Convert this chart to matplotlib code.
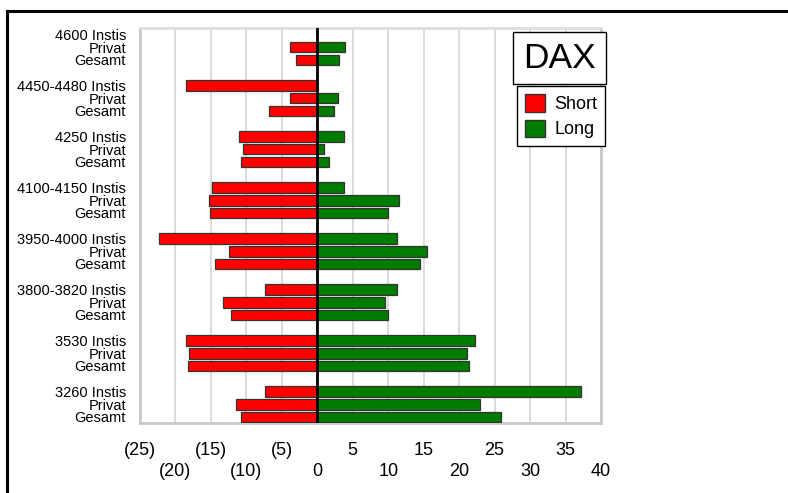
import matplotlib.pyplot as plt
from matplotlib.patches import Patch
from matplotlib.lines import Line2D
import numpy as np

plt.rcParams['font.family'] = ['Liberation Sans', 'DejaVu Sans']

# groups from top to bottom, each with Instis / Privat / Gesamt
groups = ['4600', '4450-4480', '4250', '4100-4150', '3950-4000', '3800-3820', '3530', '3260']
rows = ['Instis', 'Privat', 'Gesamt']

short = [
    [0.0, 3.8, 3.0],
    [18.5, 3.8, 6.8],
    [11.1, 10.5, 10.7],
    [14.8, 15.3, 15.2],
    [22.3, 12.4, 14.4],
    [7.4, 13.3, 12.1],
    [18.5, 18.1, 18.2],
    [7.4, 11.4, 10.7],
]
long = [
    [0.0, 3.9, 3.1],
    [0.0, 2.9, 2.3],
    [3.8, 1.0, 1.6],
    [3.8, 11.5, 9.9],
    [11.2, 15.4, 14.5],
    [11.2, 9.6, 9.9],
    [22.3, 21.1, 21.4],
    [37.2, 23.0, 25.9],
]

xticks_vals = list(range(-25, 45, 5))

fig = plt.figure(figsize=(7.88, 4.93), dpi=100)
ax = fig.add_axes([140 / 788, 69.7 / 493, 461 / 788, 395.3 / 493])

# outer black frame (runs off right and bottom)
fig.add_artist(Line2D([7 / 788, 7 / 788], [0, 1 - 11 / 493], color='black', lw=2.2, transform=fig.transFigure))
fig.add_artist(Line2D([7 / 788, 1], [1 - 11 / 493, 1 - 11 / 493], color='black', lw=2.2, transform=fig.transFigure))

ypos, labels, s_vals, l_vals = [], [], [], []
for g, name in enumerate(groups):
    for r, row in enumerate(rows):
        ypos.append(g * 4 + r)
        labels.append(name + ' ' + row if r == 0 else row)
        s_vals.append(-short[g][r])
        l_vals.append(long[g][r])

ypos = np.array(ypos)
ax.barh(ypos, s_vals, height=0.84, color='#ff0000', edgecolor='#333333', linewidth=0.9, zorder=3)
ax.barh(ypos, l_vals, height=0.84, color='#007c00', edgecolor='#333333', linewidth=0.9, zorder=3)
ax.axvline(0, color='black', lw=2, zorder=4)

ax.set_xlim(-25, 40)
ax.set_ylim(30.5, -0.5)
ax.set_yticks(ypos)
ax.set_yticklabels(labels, fontsize=10.5)
ax.tick_params(axis='y', length=0, pad=10)

ax.set_xticks(xticks_vals)
ax.set_xticklabels([])
ax.tick_params(axis='x', length=0)
ax.grid(axis='x', color='#d4d4d4', lw=1.2, zorder=0)
for sp in ax.spines.values():
    sp.set_color('#c8c8c8')
    sp.set_linewidth(2)
ax.spines['top'].set_color('#dedede')

# staggered tick labels
for i, v in enumerate(xticks_vals):
    txt = '(%d)' % -v if v < 0 else '%d' % v
    yoff = -0.068 if i % 2 == 0 else -0.121
    ax.text(v, yoff, txt, transform=ax.get_xaxis_transform(), ha='center', va='center', fontsize=13)

# title box and legend
fig.text(559.5 / 788, 1 - 58 / 493, 'DAX', fontsize=25.5, ha='center', va='center',
         bbox=dict(boxstyle='square,pad=0.28', fc='white', ec='black', lw=1))
handles = [Patch(facecolor='#ff0000', edgecolor='#333333', label='Short'),
           Patch(facecolor='#007c00', edgecolor='#333333', label='Long')]
leg = fig.legend(handles=handles, loc='upper left', bbox_to_anchor=(517 / 788, 1 - 86.3 / 493),
                 fontsize=13, fancybox=False, edgecolor='black', framealpha=1,
                 handlelength=1.1, handleheight=1.1, handletextpad=0.5, labelspacing=0.35,
                 borderpad=0.45, borderaxespad=0)
leg.get_frame().set_linewidth(1)

fig.savefig('out.png', dpi=100)
